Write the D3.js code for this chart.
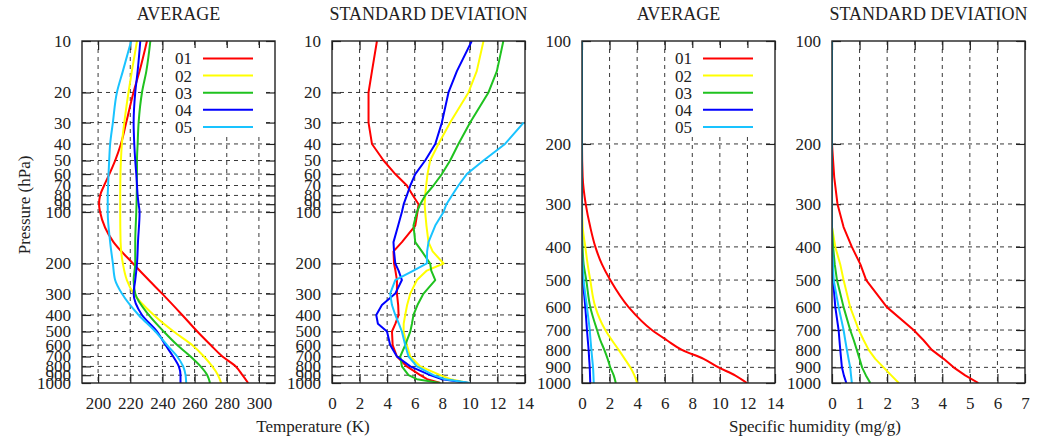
<!DOCTYPE html>
<html>
<head>
<meta charset="utf-8">
<script src="https://cdn.jsdelivr.net/npm/d3@7"></script>
<style>
  body { margin: 0; background: #fff; }
  svg text { font-family: "Liberation Serif", "Times New Roman", serif; fill: #222; }
</style>
</head>
<body>
<svg id="chart" width="1041" height="438"></svg>
<script>
// Series names and their colours
const seriesNames = ["01", "02", "03", "04", "05"];
const seriesColors = ["#ff0000", "#ffff00", "#1fc21f", "#0000ff", "#19c3ff"];

// Temperature average (K)
const tAvgPres = [10, 15, 20, 30, 40, 50, 60, 70, 80, 90, 100, 150, 200, 250, 300, 400, 500, 600, 700, 800, 900, 1000];
const tAvg01 = [230.4, 225.8, 222, 217.5, 214.2, 210.6, 207, 203.75, 201.25, 200.6, 201.25, 209.6, 221.7, 231.5, 239.8, 252.3, 261.7, 270, 277.3, 285.6, 289.8, 293.3];
const tAvg02 = [224.2, 221, 218.9, 216.3, 214.8, 214.2, 213.9, 213.8, 213.75, 213.75, 213.75, 214, 215.4, 217.9, 222.1, 234.6, 247, 258.5, 265.8, 271, 274.6, 276.5];
const tAvg03 = [232.5, 230, 227.3, 225.2, 224.6, 224.2, 224.2, 224.1, 224, 223.9, 223.75, 223.1, 223.1, 222.1, 223.1, 231.5, 240.8, 249.2, 257.5, 263.75, 267.9, 269.6];
const tAvg04 = [226.25, 224.6, 223.1, 222.1, 222.5, 223.1, 223.75, 224.2, 224.6, 225.2, 225.8, 224.8, 224.2, 223.1, 222.1, 227.3, 236.7, 241.9, 246.7, 250.2, 251.25, 251.25];
const tAvg05 = [220.6, 215.4, 211.7, 209.2, 207.5, 206.9, 206.5, 206.25, 206, 206, 206, 207.5, 209.2, 210.6, 214.8, 225.2, 235.6, 242.9, 249.2, 252.9, 254.4, 254.8];

// Temperature standard deviation (K)
const tStdPres = [10, 15, 20, 30, 40, 50, 60, 70, 80, 90, 100, 120, 150, 170, 200, 220, 250, 300, 350, 400, 450, 500, 600, 700, 800, 900, 950, 1000];
const tStd01 = [3.26, 2.9, 2.65, 2.65, 2.9, 3.74, 4.59, 5.43, 5.87, 6.28, 6.2, 6.04, 5.07, 4.46, 4.5, 4.6, 4.71, 4.71, 4.8, 4.83, 4.6, 4.35, 4.4, 4.71, 5.43, 6.4, 6.9, 7.85];
const tStd02 = [10.99, 10.5, 9.9, 8.57, 7.72, 7.12, 6.93, 6.83, 6.76, 6.72, 6.76, 6.85, 7.0, 7.3, 8.09, 6.88, 6.16, 5.68, 5.45, 5.31, 5.2, 5.19, 5.43, 5.68, 6.4, 7.85, 8.6, 9.9];
const tStd03 = [12.43, 11.96, 11.35, 10.02, 9.17, 8.57, 7.97, 7.36, 6.76, 6.4, 6.16, 5.91, 6.04, 6.52, 7.12, 7.2, 7.49, 6.64, 6.2, 5.91, 5.8, 5.68, 5.31, 4.95, 5.07, 5.55, 6.16, 7.85];
const tStd04 = [10.14, 9.06, 8.45, 7.97, 7.49, 6.76, 6.04, 5.68, 5.43, 5.2, 5.07, 4.8, 4.46, 4.5, 4.59, 4.83, 5.07, 4.59, 3.62, 3.21, 3.33, 3.99, 4.22, 4.71, 5.68, 7.12, 8.0, 9.9];
const tStd05 = [null, null, null, 13.9, 12.55, 10.99, 9.78, 9.17, 8.7, 8.3, 8.09, 7.49, 7.0, 6.9, 6.88, 5.91, 4.59, 4.22, 4.35, 4.59, 4.85, 5.07, 5.31, 5.55, 6.16, 7.36, 8.2, 10.02];

// Specific humidity (mg/g)
const qPres = [100, 150, 200, 250, 300, 350, 400, 450, 500, 600, 700, 750, 800, 850, 900, 950, 1000];
const qAvg01 = [0, 0, 0, 0.05, 0.27, 0.6, 0.97, 1.45, 2.05, 3.38, 5.07, 6.16, 7.25, 8.82, 9.9, 11.1, 11.96];
const qAvg02 = [0, 0, 0, 0, 0, 0.05, 0.24, 0.41, 0.6, 0.97, 1.69, 2.17, 2.66, 3.1, 3.5, 3.8, 4.0];
const qAvg03 = [0, 0, 0, 0, 0, 0, 0.04, 0.12, 0.31, 0.6, 1.09, 1.33, 1.62, 1.86, 2.05, 2.3, 2.45];
const qAvg04 = [0, 0, 0, 0, 0, 0, 0, 0.02, 0.07, 0.24, 0.36, 0.42, 0.48, 0.52, 0.56, 0.58, 0.6];
const qAvg05 = [0, 0, 0, 0, 0, 0, 0, 0.04, 0.12, 0.36, 0.56, 0.62, 0.68, 0.74, 0.8, 0.83, 0.85];
const qStd01 = [0, 0, 0, 0.08, 0.2, 0.42, 0.72, 1.03, 1.24, 1.99, 2.96, 3.32, 3.62, 4.05, 4.41, 4.83, 5.31];
const qStd02 = [0, 0, 0, 0, 0, 0, 0.12, 0.3, 0.42, 0.66, 0.97, 1.15, 1.33, 1.57, 1.87, 2.15, 2.42];
const qStd03 = [0, 0, 0, 0, 0, 0, 0.04, 0.1, 0.18, 0.42, 0.66, 0.79, 0.9, 1.0, 1.09, 1.23, 1.39];
const qStd04 = [0, 0, 0, 0, 0, 0, 0, 0.02, 0.04, 0.12, 0.24, 0.27, 0.3, 0.33, 0.36, 0.43, 0.52];
const qStd05 = [0, 0, 0, 0, 0, 0, 0, 0.03, 0.06, 0.24, 0.42, 0.48, 0.54, 0.6, 0.66, 0.69, 0.72];

// Tick values
const tPresTicks = [10, 20, 30, 40, 50, 60, 70, 80, 90, 100, 200, 300, 400, 500, 600, 700, 800, 900, 1000];
const qPresTicks = [100, 200, 300, 400, 500, 600, 700, 800, 900, 1000];
const tAvgTicks = [200, 220, 240, 260, 280, 300];
const tStdTicks = [0, 2, 4, 6, 8, 10, 12, 14];
const qAvgTicks = [0, 2, 4, 6, 8, 10, 12, 14];
const qStdTicks = [0, 1, 2, 3, 4, 5, 6, 7];

/**
 * One vertical profile panel (pressure on a log axis)
 */
class ProfilePanel {

    constructor(svg, opts) {
        this._svg = svg;
        this.opts = opts;
        this.width = 193;
        this.height = 342;
        this.top = 41;
        this.tick = 9;

        this.xScale = d3.scaleLinear().domain(opts.xDomain).range([0, this.width]);
        this.yScale = d3.scaleLog().domain(opts.yDomain).range([0, this.height]);
    }

    draw() {
        const o = this.opts, w = this.width, h = this.height;
        const fx = this.xScale, fy = this.yScale;
        const g = this._svg.append("g")
            .attr("transform", "translate(" + o.left + "," + this.top + ")");

        // title
        g.append("text")
            .attr("x", w / 2).attr("y", -21)
            .attr("text-anchor", "middle")
            .style("font-size", "18px")
            .text(o.title);

        // dashed grid
        const grid = g.append("g").attr("class", "grid")
            .attr("stroke", "#222").attr("stroke-width", 0.9)
            .attr("stroke-dasharray", "4,4");
        grid.selectAll("line.h")
            .data(o.yTicks.filter(v => v > o.yDomain[0] && v < o.yDomain[1]))
            .enter().append("line")
                .attr("x1", 0).attr("x2", w)
                .attr("y1", d => fy(d)).attr("y2", d => fy(d));
        grid.selectAll("line.v")
            .data(o.xTicks.filter(v => v > o.xDomain[0] && v < o.xDomain[1]))
            .enter().append("line")
                .attr("y1", 0).attr("y2", h)
                .attr("x1", d => fx(d)).attr("x2", d => fx(d));

        // axes, ticks inside and mirrored
        const fmt = d3.format("d");
        const left = d3.axisLeft(fy).tickValues(o.yTicks).tickSize(-this.tick).tickPadding(11).tickFormat(fmt);
        const right = d3.axisRight(fy).tickValues(o.yTicks).tickSize(-this.tick).tickFormat("");
        const bottom = d3.axisBottom(fx).tickValues(o.xTicks).tickSize(-this.tick).tickPadding(14).tickFormat(fmt);
        const topAx = d3.axisTop(fx).tickValues(o.xTicks).tickSize(-this.tick).tickFormat("");

        [[left, 0, 0], [right, w, 0], [bottom, 0, h], [topAx, 0, 0]].forEach(function(a) {
            const ax = g.append("g")
                .attr("transform", "translate(" + a[1] + "," + a[2] + ")")
                .call(a[0]);
            ax.select(".domain").remove();
            ax.selectAll(".tick line").attr("stroke", "#222").attr("stroke-width", 1.2);
            ax.selectAll("text")
                .style("font-size", "17px")
                .style("font-family", "'Liberation Serif', serif")
                .attr("fill", "#222");
        });

        // legend background box
        if (o.legend) {
            g.append("rect")
                .attr("x", 84).attr("y", 7)
                .attr("width", 99).attr("height", 89)
                .attr("fill", "#fff");
        }

        // clip for the profiles
        const clipId = "clip" + o.id;
        g.append("clipPath").attr("id", clipId)
            .append("rect").attr("width", w).attr("height", h);

        const line = d3.line()
            .defined(d => d.v !== null)
            .x(d => fx(d.v))
            .y(d => fy(d.p))
            .curve(o.smooth ? d3.curveMonotoneY : d3.curveLinear);

        const lines = g.append("g").attr("clip-path", "url(#" + clipId + ")");
        o.series.forEach(function(vals, i) {
            const pts = vals.map((v, k) => ({ p: o.pres[k], v: v }));
            lines.append("path")
                .datum(pts)
                .attr("fill", "none")
                .attr("stroke", seriesColors[i])
                .attr("stroke-width", 2)
                .attr("stroke-linejoin", "round")
                .attr("d", line);
        });

        // border
        g.append("rect")
            .attr("width", w).attr("height", h)
            .attr("fill", "none")
            .attr("stroke", "#222").attr("stroke-width", 1.4);

        if (o.legend) this.drawLegend(g);
    }

    drawLegend(g) {
        const lx = 110, ly = 17.5, step = 17.1;
        seriesNames.forEach(function(name, i) {
            const y = ly + i * step;
            g.append("text")
                .attr("x", lx).attr("y", y)
                .attr("dy", "0.35em")
                .attr("text-anchor", "end")
                .style("font-size", "17px")
                .text(name);
            g.append("line")
                .attr("x1", lx + 11).attr("x2", lx + 61)
                .attr("y1", y).attr("y2", y)
                .attr("stroke", seriesColors[i])
                .attr("stroke-width", 2);
        });
    }
}

const svg = d3.select("#chart");

new ProfilePanel(svg, { id: 1, left: 82, title: "AVERAGE", xDomain: [190, 310], yDomain: [10, 1000],
    xTicks: tAvgTicks, yTicks: tPresTicks, pres: tAvgPres, smooth: true, legend: true,
    series: [tAvg01, tAvg02, tAvg03, tAvg04, tAvg05] }).draw();

new ProfilePanel(svg, { id: 2, left: 332, title: "STANDARD DEVIATION", xDomain: [0, 14], yDomain: [10, 1000],
    xTicks: tStdTicks, yTicks: tPresTicks, pres: tStdPres, smooth: false, legend: false,
    series: [tStd01, tStd02, tStd03, tStd04, tStd05] }).draw();

new ProfilePanel(svg, { id: 3, left: 582, title: "AVERAGE", xDomain: [0, 14], yDomain: [100, 1000],
    xTicks: qAvgTicks, yTicks: qPresTicks, pres: qPres, smooth: true, legend: true,
    series: [qAvg01, qAvg02, qAvg03, qAvg04, qAvg05] }).draw();

new ProfilePanel(svg, { id: 4, left: 832, title: "STANDARD DEVIATION", xDomain: [0, 7], yDomain: [100, 1000],
    xTicks: qStdTicks, yTicks: qPresTicks, pres: qPres, smooth: false, legend: false,
    series: [qStd01, qStd02, qStd03, qStd04, qStd05] }).draw();

// shared axis labels
svg.append("text")
    .attr("transform", "translate(30,205) rotate(-90)")
    .attr("text-anchor", "middle")
    .style("font-size", "17px")
    .text("Pressure (hPa)");
svg.append("text")
    .attr("x", 313).attr("y", 432)
    .attr("text-anchor", "middle")
    .style("font-size", "17px")
    .text("Temperature (K)");
svg.append("text")
    .attr("x", 815).attr("y", 432)
    .attr("text-anchor", "middle")
    .style("font-size", "17px")
    .text("Specific humidity (mg/g)");
</script>
</body>
</html>
